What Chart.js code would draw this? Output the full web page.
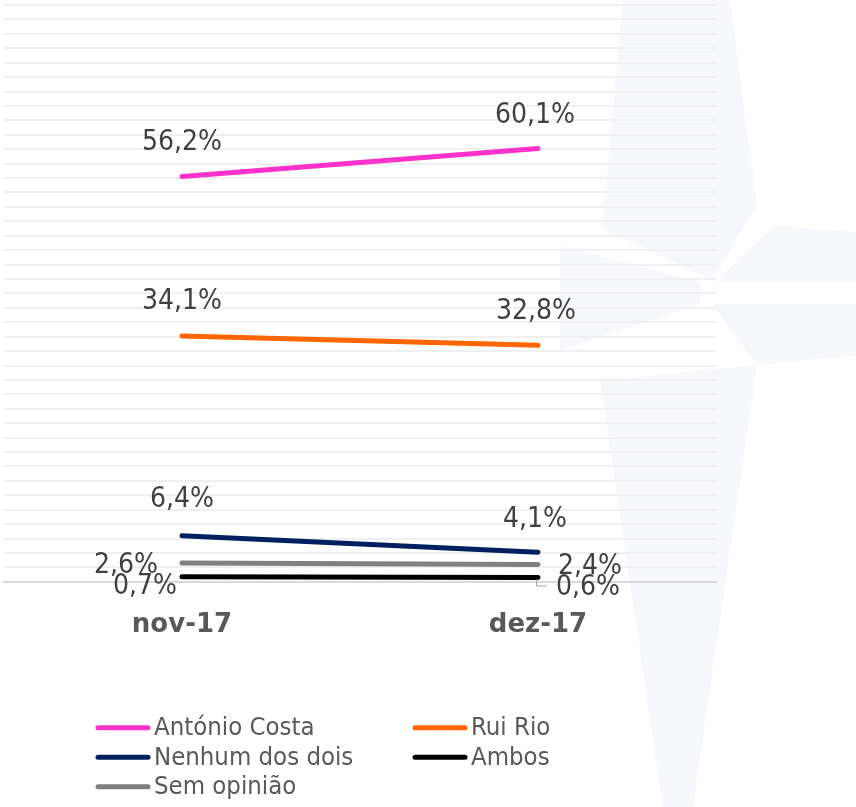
<!DOCTYPE html>
<html>
<head>
<meta charset="utf-8">
<script src="https://cdn.jsdelivr.net/npm/chart.js@4/dist/chart.umd.min.js"></script>
<style>
  html, body { margin: 0; padding: 0; background: #fff; }
  #wrap { width: 856px; height: 807px; }
</style>
</head>
<body>
<div id="wrap"><canvas id="chart" width="856" height="807"></canvas></div>
<script>
const months = ["nov-17", "dez-17"];

const antonioCosta = [56.2, 60.1];
const ruiRio = [34.1, 32.8];
const nenhumDosDois = [6.4, 4.1];
const ambos = [0.7, 0.6];
const semOpiniao = [2.6, 2.4];

const FONT = "'DejaVu Sans Condensed', 'DejaVu Sans', sans-serif";

function pct(v) {
  return v.toFixed(1).replace(".", ",") + "%";
}

// faint star watermark behind the plot
const watermark = {
  id: "watermark",
  beforeDraw(chart) {
    const c = chart.ctx;
    const shapes = [
      [[623, 0], [730, 0], [757, 206], [712, 280], [602, 228]],
      [[773, 226], [856, 232], [856, 282], [716, 282]],
      [[712, 304], [856, 304], [856, 355], [757, 365]],
      [[600, 381], [757, 365], [693, 807], [663, 807]],
      [[560, 246], [700, 282], [700, 304], [560, 350]]
    ];
    c.save();
    c.fillStyle = "#f6f8fc";
    shapes.forEach(s => {
      c.beginPath();
      s.forEach((p, i) => i ? c.lineTo(p[0], p[1]) : c.moveTo(p[0], p[1]));
      c.closePath();
      c.fill();
    });
    c.restore();
  }
};

// value labels next to each point
const valueLabels = {
  id: "valueLabels",
  afterDatasetsDraw(chart) {
    const c = chart.ctx;
    c.save();
    c.font = "28px " + FONT;
    c.fillStyle = "#404040";
    c.textBaseline = "middle";
    chart.data.datasets.forEach((ds, i) => {
      const meta = chart.getDatasetMeta(i);
      meta.data.forEach((pt, j) => {
        const place = ds.labelPlace[j];
        const txt = pct(ds.data[j]);
        if (place.leader) {
          c.strokeStyle = "#a6a6a6";
          c.lineWidth = 1;
          c.beginPath();
          c.moveTo(pt.x - 1.5, pt.y + 2);
          c.lineTo(pt.x - 1.5, pt.y + 8.5);
          c.lineTo(pt.x + 9, pt.y + 8.5);
          c.stroke();
        }
        c.textAlign = place.align;
        c.fillText(txt, pt.x + place.dx, pt.y + place.dy);
      });
    });
    c.restore();
  }
};

// two-column legend under the axis
const bottomLegend = {
  id: "bottomLegend",
  afterDraw(chart) {
    const c = chart.ctx;
    const left = 96, colGap = 317, rowH = 29.5;
    const top = chart.chartArea.bottom + 146;
    c.save();
    c.font = "25.5px " + FONT;
    c.textBaseline = "middle";
    c.textAlign = "left";
    chart.data.datasets.forEach((ds, i) => {
      const x = left + (i % 2) * colGap;
      const y = top + Math.floor(i / 2) * rowH;
      c.strokeStyle = ds.borderColor;
      c.lineWidth = 5;
      c.lineCap = "round";
      c.beginPath();
      c.moveTo(x + 2, y);
      c.lineTo(x + 52, y);
      c.stroke();
      c.fillStyle = "#595959";
      c.fillText(ds.label, x + 58, y + 1);
    });
    c.restore();
  }
};

function line(label, data, color, labelPlace) {
  return {
    label,
    data,
    borderColor: color,
    backgroundColor: color,
    borderWidth: 5,
    borderCapStyle: "round",
    pointRadius: 0,
    pointHoverRadius: 0,
    fill: false,
    tension: 0,
    labelPlace
  };
}

const above = { align: "center", dx: 0, dy: -34 };

new Chart(document.getElementById("chart").getContext("2d"), {
  type: "line",
  data: {
    labels: months,
    datasets: [
      line("António Costa", antonioCosta, "#ff33cc", [above, { align: "center", dx: -3, dy: -33 }]),
      line("Rui Rio", ruiRio, "#ff6600", [above, { align: "center", dx: -2, dy: -34 }]),
      line("Nenhum dos dois", nenhumDosDois, "#002060", [{ align: "center", dx: 0, dy: -36 }, { align: "center", dx: -3, dy: -33 }]),
      line("Ambos", ambos, "#000000", [{ align: "right", dx: -5, dy: 10 }, { align: "left", dx: 18, dy: 10, leader: true }]),
      line("Sem opinião", semOpiniao, "#808080", [{ align: "right", dx: -24, dy: 3 }, { align: "left", dx: 20, dy: 2 }])
    ]
  },
  options: {
    responsive: false,
    animation: false,
    devicePixelRatio: 1,
    layout: { padding: { left: 4, right: 140, top: 5, bottom: 138 } },
    plugins: {
      legend: { display: false },
      tooltip: { enabled: false }
    },
    scales: {
      x: {
        offset: true,
        grid: { display: false, drawTicks: false },
        border: { display: true, color: "#d9d9d9", width: 2 },
        ticks: {
          color: "#595959",
          padding: 28,
          font: { family: "'DejaVu Sans', sans-serif", size: 26, weight: "bold" }
        }
      },
      y: {
        min: 0,
        max: 80,
        border: { display: false },
        grid: {
          drawTicks: false,
          lineWidth: 2,
          color: ctx => ctx.tick && ctx.tick.value === 0 ? "#d9d9d9" : "#f0f0f0"
        },
        ticks: { display: false, stepSize: 2, maxTicksLimit: 100 }
      }
    }
  },
  plugins: [watermark, valueLabels, bottomLegend]
});
</script>
</body>
</html>
